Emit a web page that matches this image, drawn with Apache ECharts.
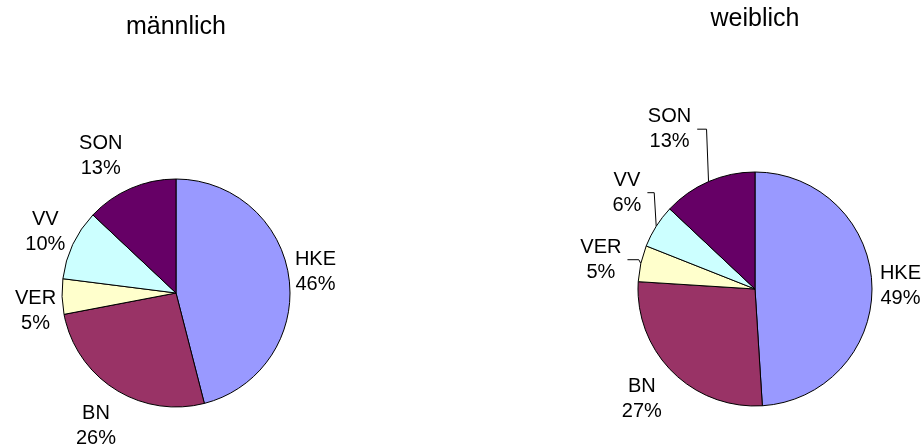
<!DOCTYPE html>
<html>
<head>
<meta charset="utf-8">
<title>männlich / weiblich</title>
<script src="https://cdn.jsdelivr.net/npm/echarts@6/dist/echarts.min.js"></script>
<style>
  html, body { margin: 0; padding: 0; background: #fff; }
  #main { width: 923px; height: 448px; }
</style>
</head>
<body>
<div id="main"></div>
<script>
// Kategorien (im Uhrzeigersinn ab 12 Uhr)
var kategorien = ['HKE', 'BN', 'VER', 'VV', 'SON'];
// Anteile in Prozent
var maennlich = [46, 26, 5, 10, 13];
var weiblich = [49, 27, 5, 6, 13];
var titel = ['männlich', 'weiblich'];

var farben = ['#9999FF', '#993366', '#FFFFCC', '#CCFFFF', '#660066'];
var schrift = "'Liberation Sans', Arial, sans-serif";

// Lage der Kreise und kleine Verschiebungen der Beschriftungen (wie im Excel-Original)
var kreise = [
    { mitte: [176, 293], radius: 114, abstand: 6, titelTop: 15,
      versatz: [[0, -3], [-5, 11], [0, 13], [-4, 1], [-19, -4]], linien: [] },
    { mitte: [755, 289], radius: 117, abstand: 6, titelTop: 7,
      versatz: [[2, 2], [-12, 5], [-14, 3], [-12, -17], [-28, -24]], linien: [2, 3, 4] }
];
var werteListe = [maennlich, weiblich];

function daten(werte, linien) {
    return kategorien.map(function (k, i) {
        return {
            name: k,
            value: werte[i],
            itemStyle: { color: farben[i] },
            labelLine: { show: linien.indexOf(i) >= 0 }
        };
    });
}

var chart = echarts.init(document.getElementById('main'));

function kreis(s) {
    var g = kreise[s];
    return {
        name: titel[s],
        type: 'pie',
        center: g.mitte,
        radius: g.radius,
        startAngle: 90,
        clockwise: true,
        animation: false,
        silent: true,
        avoidLabelOverlap: false,
        data: daten(werteListe[s], g.linien),
        itemStyle: { borderColor: '#000', borderWidth: 1 },
        label: {
            show: true,
            position: 'outside',
            formatter: '{b}\n{c}%',
            fontFamily: schrift,
            fontSize: 20,
            lineHeight: 25,
            color: '#000'
        },
        labelLine: {
            show: true,
            length: 6,
            length2: 6,
            lineStyle: { color: '#000', width: 1 }
        },
        // Beschriftung mittig außerhalb des Segments, wie Excel
        labelLayout: function (p) {
            var werte = werteListe[p.seriesIndex];
            var summe = werte.reduce(function (a, b) { return a + b; }, 0);
            var vorher = 0;
            for (var j = 0; j < p.dataIndex; j++) vorher += werte[j];
            var winkel = 2 * Math.PI * (vorher + werte[p.dataIndex] / 2) / summe;
            var dx = Math.sin(winkel), dy = -Math.cos(winkel);
            var R = g.radius + g.abstand;
            var w = p.labelRect.width, h = p.labelRect.height;
            var v = g.versatz[p.dataIndex];
            var x = g.mitte[0] + R * dx + w / 2 * dx + v[0];
            var y = g.mitte[1] + R * dy + h / 2 * dy + v[1];
            var rand = [g.mitte[0] + g.radius * dx, g.mitte[1] + g.radius * dy];
            var res = { x: x, y: y, align: 'center', verticalAlign: 'middle', hideOverlap: false };
            if (g.linien.indexOf(p.dataIndex) >= 0) {
                res.labelLinePoints = [rand, [rand[0] - 2, y], [x + w / 2 + 6, y]];
            }
            return res;
        }
    };
}

function ueberschrift(s) {
    return {
        text: titel[s],
        left: kreise[s].mitte[0],
        top: kreise[s].titelTop,
        padding: 0,
        textAlign: 'center',
        textStyle: { fontFamily: schrift, fontSize: 25, fontWeight: 'normal', color: '#000' }
    };
}

var option = {
    backgroundColor: '#fff',
    title: [ueberschrift(0), ueberschrift(1)],
    series: [kreis(0), kreis(1)]
};

chart.setOption(option);
</script>
</body>
</html>
